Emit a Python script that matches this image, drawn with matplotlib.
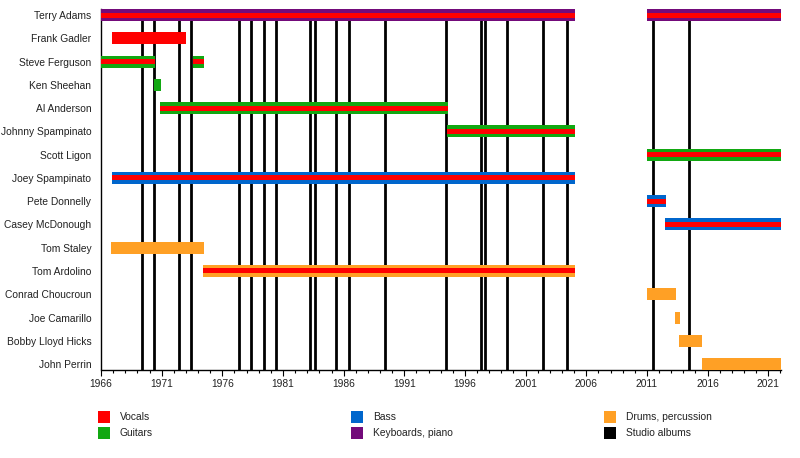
import matplotlib
matplotlib.use("Agg")
import matplotlib.pyplot as plt
from matplotlib.patches import Rectangle
import numpy as np

plt.rcParams['font.family'] = ['Liberation Sans', 'DejaVu Sans']

END = 2022.05

members = ["Terry Adams", "Frank Gadler", "Steve Ferguson", "Ken Sheehan",
           "Al Anderson", "Johnny Spampinato", "Scott Ligon", "Joey Spampinato",
           "Pete Donnelly", "Casey McDonough", "Tom Staley", "Tom Ardolino",
           "Conrad Choucroun", "Joe Camarillo", "Bobby Lloyd Hicks", "John Perrin"]

bar_name = ["Terry Adams", "Terry Adams", "Frank Gadler", "Steve Ferguson",
            "Steve Ferguson", "Ken Sheehan", "Al Anderson", "Johnny Spampinato",
            "Scott Ligon", "Joey Spampinato", "Pete Donnelly", "Casey McDonough",
            "Tom Staley", "Tom Ardolino", "Conrad Choucroun", "Joe Camarillo",
            "Bobby Lloyd Hicks", "John Perrin"]
bar_start = [1966.0, 2011.0, 1966.9, 1966.0, 1973.6, 1970.4, 1970.9, 1994.55,
             2011.0, 1966.9, 2011.0, 2012.5, 1966.8, 1974.4, 2011.0, 2013.3,
             2013.65, 2015.5]
bar_end = [2005.08, END, 1973.0, 1970.45, 1974.45, 1970.95, 1994.6, 2005.08,
           END, 2005.08, 2012.55, END, 1974.45, 2005.08, 2013.4, 2013.7,
           2015.55, END]
bar_main = ["Keyboards, piano", "Keyboards, piano", "Vocals", "Guitars", "Guitars",
            "Guitars", "Guitars", "Guitars", "Guitars", "Bass", "Bass", "Bass",
            "Drums, percussion", "Drums, percussion", "Drums, percussion",
            "Drums, percussion", "Drums, percussion", "Drums, percussion"]
bar_stripe = ["Vocals", "Vocals", None, "Vocals", "Vocals", None, "Vocals", "Vocals",
              "Vocals", "Vocals", "Vocals", "Vocals", None, "Vocals", None, None,
              None, None]

albums = [1969.4, 1970.4, 1972.4, 1973.4, 1977.4, 1978.4, 1979.46, 1980.45,
          1983.25, 1983.6, 1985.4, 1986.47, 1989.44, 1994.44, 1997.3, 1997.62,
          1999.5, 2002.46, 2004.44, 2011.5, 2014.5]

legend_labels = ["Vocals", "Guitars", "Bass", "Keyboards, piano",
                 "Drums, percussion", "Studio albums"]
colors = {"Vocals": "#ff0000", "Guitars": "#12a812", "Bass": "#0066cc",
          "Keyboards, piano": "#730a7a", "Drums, percussion": "#ffa025",
          "Studio albums": "#000000"}

FS = 7.4
W, H = 800, 458
fig = plt.figure(figsize=(W / 100, H / 100), dpi=100)
ax = fig.add_axes([101 / W, (H - 369.5) / H, 680 / W, (369.5 - 9) / H])

row = {m: i for i, m in enumerate(members)}
BAR_H = 12 / 23.27
STRIPE_H = 5 / 23.27

for a in albums:
    ax.axvline(a, color="black", lw=2.0, zorder=2)

for n, s, e, mn, st in zip(bar_name, bar_start, bar_end, bar_main, bar_stripe):
    y = row[n]
    ax.barh(y, e - s, left=s, height=BAR_H, color=colors[mn], zorder=3, linewidth=0)
    if st:
        ax.barh(y, e - s, left=s, height=STRIPE_H, color=colors[st], zorder=4, linewidth=0)

ax.set_xlim(1966, END)
ax.set_ylim(15.234, -0.258)
ax.set_yticks(range(len(members)))
ax.set_yticklabels(members, fontsize=FS, color="#222222")
ax.tick_params(axis="y", length=0, pad=7)

ax.set_xticks(np.arange(1966, 2022, 5))
ax.set_xticks(np.arange(1966, 2023, 1), minor=True)
ax.set_xticklabels([str(y) for y in range(1966, 2022, 5)], fontsize=FS, color="#222222")
ax.tick_params(axis="x", which="major", length=4, width=0.8, pad=3)
ax.tick_params(axis="x", which="minor", length=2.5, width=0.8)

for sp in ["top", "right"]:
    ax.spines[sp].set_visible(False)
ax.spines["left"].set_linewidth(1.0)
ax.spines["bottom"].set_linewidth(1.0)

# legend
col_x = [98, 351, 604]
row_y = [416.7, 433.3]
for i, lab in enumerate(legend_labels):
    cx = col_x[i // 2]
    cy = row_y[i % 2]
    fig.patches.append(Rectangle((cx / W, (H - cy - 6) / H), 12 / W, 12 / H,
                                 transform=fig.transFigure, color=colors[lab],
                                 linewidth=0))
    fig.text((cx + 22) / W, (H - cy) / H, lab, fontsize=FS, va="center",
             ha="left", color="#222222")

fig.savefig("out.png", dpi=100)
